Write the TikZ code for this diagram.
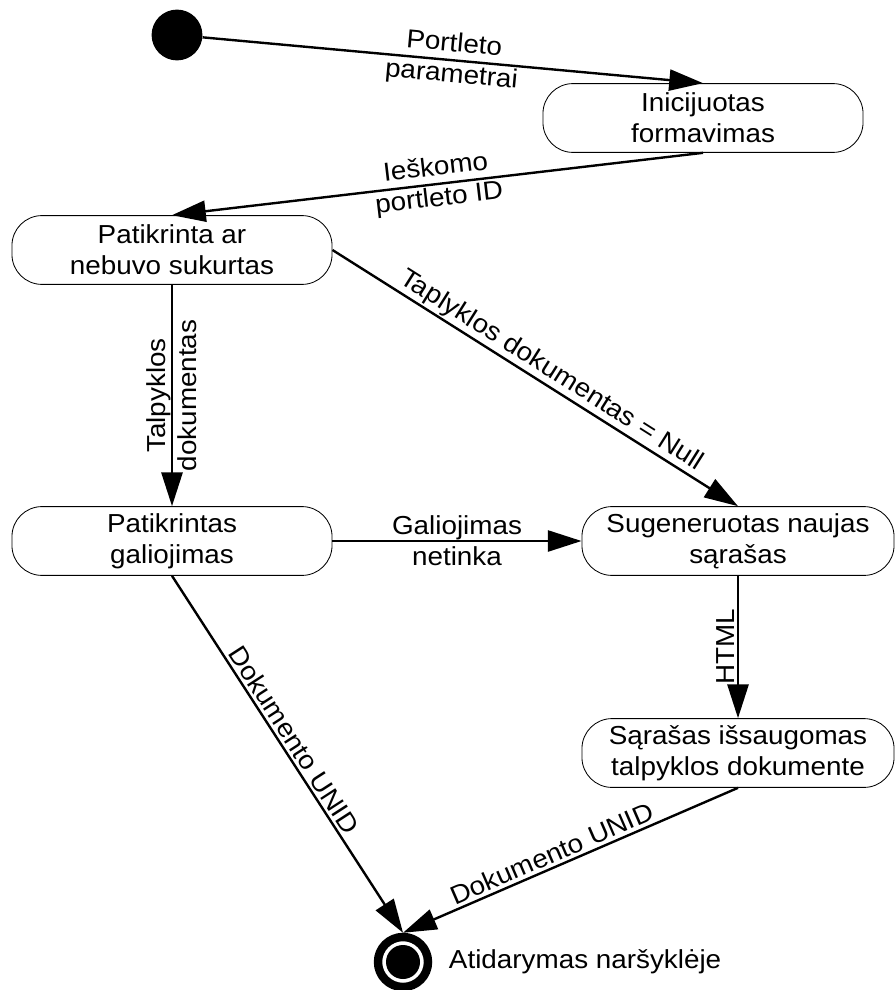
\documentclass[tikz,border=0pt]{standalone}
\usepackage{fontspec}
\setmainfont{Liberation Sans}[FakeStretch=1.07]
\usetikzlibrary{arrows.meta}

\tikzset{
	state/.style={draw, line width=.6pt, rounded corners=.75cm, minimum width=8cm,
		minimum height=1.72cm, align=center, inner sep=0pt},
	trans/.style={line width=1.7pt, -{Triangle[length=24pt,width=15pt]}},
	lbl/.style={align=center, inner sep=2pt},
}

\begin{document}
\begin{tikzpicture}[x=.025cm, y=-.025cm, font=\fontsize{18.5}{22}\selectfont]
	\useasboundingbox (0,0) rectangle (895,990);
	% states
	\node[circle, fill, inner sep=0pt, minimum size=1.27cm] (start) at (177,35) {};
	\node[state] (init) at (703,118) {Inicijuotas\\formavimas};
	\node[state] (check) at (172,250) {Patikrinta ar\\nebuvo sukurtas};
	\node[state] (valid) at (172,541) {Patikrintas\\galiojimas};
	\node[state, minimum width=7.8cm] (gen) at (738,541) {Sugeneruotas naujas\\sąrašas};
	\node[state, minimum width=7.8cm] (save) at (738,753) {Sąrašas išsaugomas\\talpyklos dokumente};
	\node[circle, draw, line width=6pt, inner sep=0pt, minimum size=1.25cm] (end) at (403,962) {};
	\node[circle, fill, inner sep=0pt, minimum size=.85cm] (endin) at (end) {};
	\node[anchor=west] (endlbl) at (444,962) {Atidarymas naršyklėje};
	% transitions
	\draw[trans] (start) -- node[lbl, sloped] {Portleto\\parametrai} (init.north);
	\draw[trans] (init.south) -- node[lbl, sloped] {Ieškomo\\portleto ID} (check.north);
	\draw[trans] (check.east) -- node[lbl, sloped, above, pos=.52, inner sep=1pt] {Taplyklos dokumentas = Null} (gen.north);
	\draw[trans] (check.south) -- node[lbl, rotate=90] {Talpyklos\\dokumentas} (valid.north);
	\draw[trans] (valid.east) -- node[lbl] {Galiojimas\\netinka} (gen.west);
	\draw[trans] (gen.south) -- node[lbl, rotate=90, above] {HTML} (save.north);
	\draw[trans] (valid.south) -- node[lbl, sloped, above, pos=.48] {Dokumento UNID} (end.north);
	\draw[trans] (save.south) -- node[lbl, sloped, above, pos=.54] {Dokumento UNID} (end.north);
\end{tikzpicture}
\end{document}
